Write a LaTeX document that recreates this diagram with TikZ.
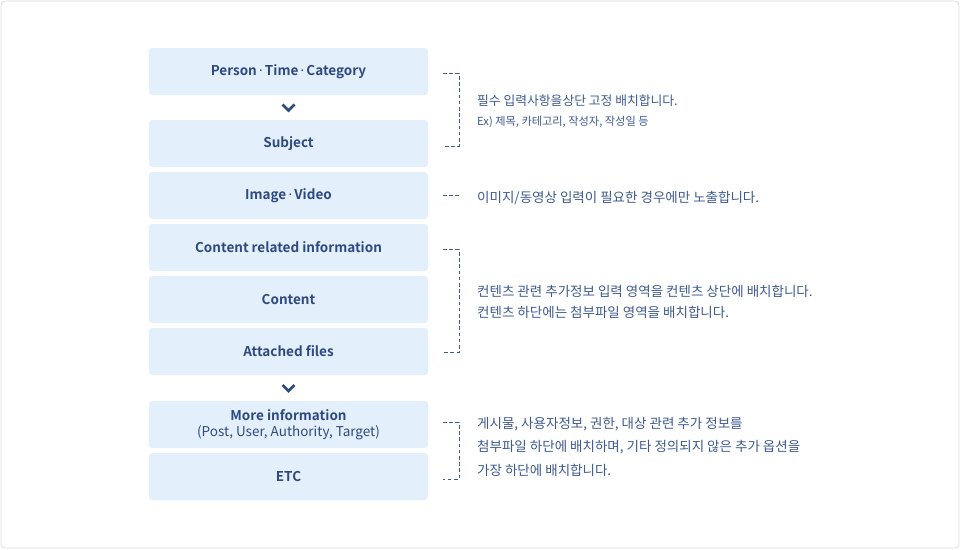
\documentclass[tikz,border=0pt]{standalone}
\usepackage{fontspec}
\setmainfont{Noto Sans CJK KR}[BoldFont={Noto Sans CJK KR Bold}]
\newfontfamily\dotfont{Noto Sans}
\usetikzlibrary{positioning, calc}
\definecolor{boxfill}{HTML}{E4EFFC}
\definecolor{navy}{HTML}{2D4A80}
\definecolor{notetext}{HTML}{3E5A90}
\definecolor{framegray}{HTML}{DDDEE4}
\newcommand{\mdot}{\,{\dotfont·}\,}

\begin{document}
\begin{tikzpicture}[x=1pt, y=1pt,
        box/.style={rectangle, fill=boxfill, rounded corners=3pt,
                    minimum width=279pt, minimum height=47pt, inner sep=0pt,
                    outer sep=0pt, align=center, text=navy,
                    font=\bfseries\fontsize{13.5}{18}\selectfont},
        note/.style={anchor=west, align=left, text=notetext, inner sep=0pt,
                     font=\fontsize{13.5}{21}\selectfont},
        brk/.style={notetext, line width=0.9pt, dash pattern=on 3.6pt off 2.6pt},
        chev/.style={navy, line width=2.6pt, line join=miter},
        node distance=5pt]
      \useasboundingbox (0,0) rectangle (960,-549);
      \draw[framegray, line width=0.8pt, rounded corners=4pt] (1,-1) rectangle (959,-548);

      \node[box] (ptc) at (288.5,-71.5) {Person\mdot Time\mdot Category};
      \node[box, below=25pt of ptc] (sbj) {Subject};
      \node[box, below=of sbj] (img) {Image\mdot Video};
      \node[box, below=of img] (cri) {Content related information};
      \node[box, below=of cri] (cnt) {Content};
      \node[box, below=of cnt] (att) {Attached files};
      \node[box, below=26pt of att] (more) {More information\\[-2pt]
            {\mdseries (Post, User, Authority, Target)}};
      \node[box, below=of more] (etc) {ETC};

      \path (ptc) -- coordinate (c1) (sbj);
      \path (att) -- coordinate (c2) (more);
      \draw[chev] ([shift={(-6,3)}]c1) -- ++(6,-6) -- ++(6,6);
      \draw[chev] ([shift={(-6,3)}]c2) -- ++(6,-6) -- ++(6,6);

      \draw[brk] ([shift={(15,-1.8)}]ptc.east) -- ++(16,0) |- ([shift={(15,-2.5)}]sbj.east);
      \draw[brk] ([xshift=15pt]img.east) -- ++(16,0);
      \draw[brk] ([shift={(15,-1.8)}]cri.east) -- ++(16,0) |- ([shift={(15,-0.8)}]att.east);
      \draw[brk] ([shift={(15,2.2)}]more.east) -- ++(16,0) |- ([shift={(15,-2.8)}]etc.east);

      \node[note, font=\fontsize{12.8}{20}\selectfont] (n1) at ($(ptc.east)!0.5!(sbj.east)+(49,-3.5)$)
            {필수 입력사항을상단 고정 배치합니다.\\{\fontsize{11.2}{20}\selectfont Ex) 제목, 카테고리, 작성자, 작성일 등}};
      \node[note] (n2) at ($(img.east)+(49,-3)$) {이미지/동영상 입력이 필요한 경우에만 노출합니다.};
      \node[note] (n3) at ($(cri.east)!0.5!(att.east)+(49,-2)$)
            {컨텐츠 관련 추가정보 입력 영역을 컨텐츠 상단에 배치합니다.\\컨텐츠 하단에는 첨부파일 영역을 배치합니다.};
      \node[note, font=\fontsize{13.5}{23.5}\selectfont] (n4) at ($(more.east)!0.5!(etc.east)+(49,4)$)
            {게시물, 사용자정보, 권한, 대상 관련 추가 정보를\\첨부파일 하단에 배치하며, 기타 정의되지 않은 추가 옵션을\\가장 하단에 배치합니다.};
    \end{tikzpicture}
\end{document}
